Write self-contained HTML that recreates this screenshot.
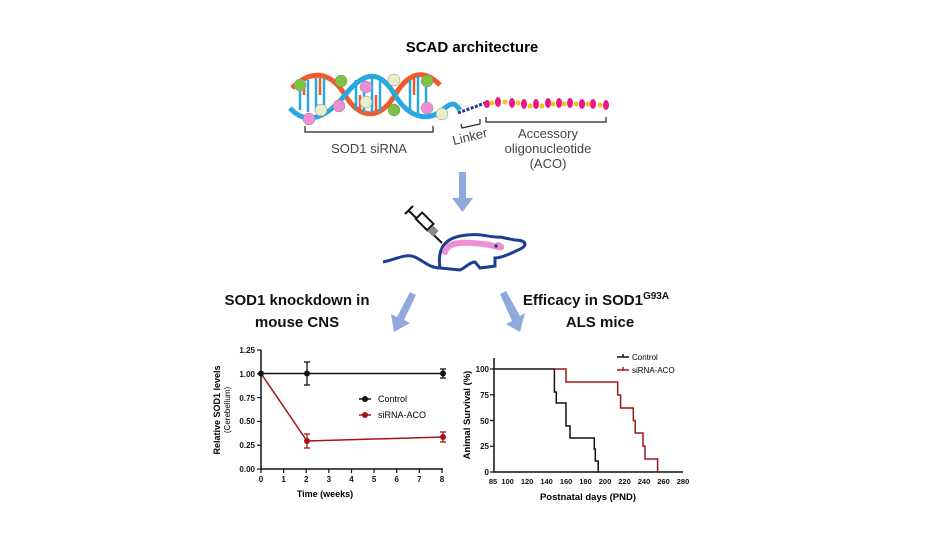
<!DOCTYPE html>
<html><head><meta charset="utf-8"><style>
html,body{margin:0;padding:0;background:#fff;}
svg{display:block;font-family:"Liberation Sans",Arial,sans-serif;}
</style></head><body>
<svg width="944" height="548" viewBox="0 0 944 548" xmlns="http://www.w3.org/2000/svg">
<text x="472" y="52" font-size="15" font-weight="bold" text-anchor="middle">SCAD architecture</text>
<!-- DNA -->
<g stroke-width="5" fill="none">
<path d="M292,88 C310,70 330,70 345,95 C360,120 380,120 395,95 C410,70 425,70 440,85" stroke="#f05a28"/>
<path d="M290,108 C305,125 325,120 345,95 C365,70 380,70 395,95 C410,120 430,122 445,108 C452,102 455,103 460,110" stroke="#29a8e0"/>
</g>
<g stroke="#29a8e0" stroke-width="2.5">
<line x1="300" y1="83" x2="300" y2="110"/><line x1="308" y1="80" x2="308" y2="112"/><line x1="316" y1="78" x2="316" y2="112"/><line x1="324" y1="78" x2="324" y2="110"/>
<line x1="356" y1="80" x2="356" y2="110"/><line x1="364" y1="76" x2="364" y2="113"/><line x1="372" y1="75" x2="372" y2="113"/><line x1="380" y1="80" x2="380" y2="112"/>
<line x1="410" y1="80" x2="410" y2="110"/><line x1="418" y1="76" x2="418" y2="113"/><line x1="426" y1="76" x2="426" y2="113"/>
</g>
<g stroke="#f05a28" stroke-width="2.5">
<line x1="304" y1="82" x2="304" y2="95"/><line x1="320" y1="78" x2="320" y2="95"/><line x1="360" y1="95" x2="360" y2="112"/><line x1="376" y1="95" x2="376" y2="113"/><line x1="414" y1="78" x2="414" y2="95"/>
</g>
<g stroke="#888" stroke-width="0.5">
<circle cx="300" cy="85" r="6" fill="#7dc242"/><circle cx="321" cy="110" r="6" fill="#e6efc8"/><circle cx="309" cy="119" r="6" fill="#ee8fd4"/>
<circle cx="341" cy="81" r="6" fill="#7dc242"/><circle cx="339" cy="106" r="6" fill="#ee8fd4"/><circle cx="366" cy="87" r="6" fill="#ee8fd4"/><circle cx="366" cy="102" r="6" fill="#e6efc8"/>
<circle cx="394" cy="80" r="6" fill="#e6efc8"/><circle cx="394" cy="110" r="6" fill="#7dc242"/><circle cx="427" cy="81" r="6" fill="#7dc242"/><circle cx="427" cy="108" r="6" fill="#ee8fd4"/><circle cx="442" cy="114" r="6" fill="#e6efc8"/>
</g>
<path d="M458,113 L485,103" stroke="#1c3f94" stroke-width="3" stroke-dasharray="3,1.5"/>
<g>
<rect x="485" y="100" width="125" height="3" fill="#e8178a" opacity="0"/>
<g fill="#e8178a">
<ellipse cx="487" cy="104" rx="3" ry="4"/><ellipse cx="498" cy="102" rx="3" ry="5"/><ellipse cx="512" cy="103" rx="3" ry="5"/><ellipse cx="524" cy="104" rx="3" ry="5"/><ellipse cx="536" cy="104" rx="3" ry="5"/><ellipse cx="548" cy="103" rx="3" ry="5"/><ellipse cx="559" cy="103" rx="3" ry="5"/><ellipse cx="570" cy="103" rx="3" ry="5"/><ellipse cx="582" cy="104" rx="3" ry="5"/><ellipse cx="593" cy="104" rx="3" ry="5"/><ellipse cx="606" cy="105" rx="3" ry="5"/>
</g>
<g fill="#f7c11a">
<circle cx="492" cy="103" r="2.5"/><circle cx="505" cy="102" r="2.5"/><circle cx="518" cy="103" r="2.5"/><circle cx="530" cy="106" r="2.5"/><circle cx="542" cy="106" r="2.5"/><circle cx="553" cy="104" r="2.5"/><circle cx="564" cy="104" r="2.5"/><circle cx="576" cy="104" r="2.5"/><circle cx="588" cy="104" r="2.5"/><circle cx="600" cy="105" r="2.5"/>
</g>
</g>
<g stroke="#222" stroke-width="1.2" fill="none">
<path d="M305,126 V132 H433 V126"/>
<path d="M461,124 L462,128 L480,124 L480,119"/>
<path d="M486,117 V122 H606 V117"/>
</g>
<g font-size="13" fill="#444" text-anchor="middle">
<text x="369" y="153">SOD1 siRNA</text>
<text x="470" y="141" transform="rotate(-14 470 137)">Linker</text>
<text x="548" y="138">Accessory</text>
<text x="548" y="153">oligonucleotide</text>
<text x="548" y="168">(ACO)</text>
</g>
<!-- arrows -->
<g fill="#8fa9dc">
<path d="M459,172 H466 V198 H473 L462.5,212 L452,198 H459 Z"/>
<path d="M410,292 L416,295 L404,320 L410,323 L394,332 L391,314 L397,317 Z"/>
<path d="M500,294 L506,291 L520,316 L525,313 L520,332 L506,324 L512,321 Z"/>
</g>
<!-- mouse -->
<g fill="none" stroke="#1c3f94" stroke-width="3">
<path d="M383,262 C395,260 405,253 415,257 C425,262 430,268 440,268"/>
<path d="M440,268 C438,255 440,240 460,236 C480,232 490,238 500,237 L515,240 C525,240 530,245 518,250 C508,255 500,258 495,258 L495,266 L480,268 L475,262 C470,262 465,268 460,270 L440,268"/>
</g>
<path d="M445,252 C448,240 470,242 490,245 C500,248 505,248 498,245" stroke="#ee8fd4" stroke-width="6" fill="none" stroke-linecap="round"/>
<circle cx="496" cy="246" r="1.8" fill="#1c3f94"/>
<g stroke="#111" stroke-width="2" fill="none">
<line x1="408" y1="210" x2="442" y2="243"/>
<rect x="417" y="217" width="16" height="9" transform="rotate(45 425 221)" fill="#fff"/>
<line x1="405" y1="214" x2="413" y2="206"/>
</g>
<rect x="429" y="227" width="8" height="8" transform="rotate(45 433 231)" fill="#888"/>
<!-- titles -->
<g font-size="15" font-weight="bold" text-anchor="middle" fill="#111">
<text x="297" y="305">SOD1 knockdown in</text>
<text x="297" y="327">mouse CNS</text>
<text x="596" y="305">Efficacy in SOD1<tspan font-size="10" dy="-6">G93A</tspan></text>
<text x="600" y="327">ALS mice</text>
</g>
<!-- left plot -->
<g stroke="#111" stroke-width="1.5" fill="none">
<path d="M261,350 V469 H443"/>
</g>
<g stroke="#111" stroke-width="1.2">
<line x1="257" y1="350" x2="261" y2="350"/><line x1="257" y1="373.8" x2="261" y2="373.8"/><line x1="257" y1="397.6" x2="261" y2="397.6"/><line x1="257" y1="421.4" x2="261" y2="421.4"/><line x1="257" y1="445.2" x2="261" y2="445.2"/><line x1="257" y1="469" x2="261" y2="469"/>
<line x1="261" y1="469" x2="261" y2="473"/><line x1="283.6" y1="469" x2="283.6" y2="473"/><line x1="306.2" y1="469" x2="306.2" y2="473"/><line x1="328.9" y1="469" x2="328.9" y2="473"/><line x1="351.5" y1="469" x2="351.5" y2="473"/><line x1="374.1" y1="469" x2="374.1" y2="473"/><line x1="396.7" y1="469" x2="396.7" y2="473"/><line x1="419.3" y1="469" x2="419.3" y2="473"/><line x1="442" y1="469" x2="442" y2="473"/>
</g>
<g font-size="8" font-weight="bold" text-anchor="end" fill="#111">
<text x="255" y="353">1.25</text><text x="255" y="377">1.00</text><text x="255" y="401">0.75</text><text x="255" y="424">0.50</text><text x="255" y="448">0.25</text><text x="255" y="472">0.00</text>
</g>
<g font-size="8" font-weight="bold" text-anchor="middle" fill="#111">
<text x="261" y="482">0</text><text x="283.6" y="482">1</text><text x="306.2" y="482">2</text><text x="328.9" y="482">3</text><text x="351.5" y="482">4</text><text x="374.1" y="482">5</text><text x="396.7" y="482">6</text><text x="419.3" y="482">7</text><text x="442" y="482">8</text>
</g>
<text x="325" y="497" font-size="9" font-weight="bold" text-anchor="middle">Time (weeks)</text>
<text transform="translate(220 410) rotate(-90)" font-size="9" font-weight="bold" text-anchor="middle">Relative SOD1 levels</text>
<text transform="translate(230 410) rotate(-90)" font-size="8" text-anchor="middle">(Cerebellum)</text>
<polyline points="261,373.5 307,373.5 443,373.5" stroke="#111" stroke-width="1.5" fill="none"/>
<polyline points="261,373.5 307,441 443,437" stroke="#a31515" stroke-width="1.5" fill="none"/>
<g stroke="#111" stroke-width="1.3"><line x1="307" y1="362" x2="307" y2="385"/><line x1="304" y1="362" x2="310" y2="362"/><line x1="304" y1="385" x2="310" y2="385"/><line x1="443" y1="369" x2="443" y2="378"/><line x1="440" y1="369" x2="446" y2="369"/><line x1="440" y1="378" x2="446" y2="378"/></g>
<g stroke="#a31515" stroke-width="1.3"><line x1="307" y1="434" x2="307" y2="448"/><line x1="304" y1="434" x2="310" y2="434"/><line x1="304" y1="448" x2="310" y2="448"/><line x1="443" y1="432" x2="443" y2="442"/><line x1="440" y1="432" x2="446" y2="432"/><line x1="440" y1="442" x2="446" y2="442"/></g>
<circle cx="261" cy="373.5" r="3" fill="#111"/><circle cx="307" cy="373.5" r="3" fill="#111"/><circle cx="443" cy="373.5" r="3" fill="#111"/>
<circle cx="307" cy="441" r="3" fill="#a31515"/><circle cx="443" cy="437" r="3" fill="#a31515"/>
<line x1="359" y1="399" x2="371" y2="399" stroke="#111" stroke-width="1.5"/><circle cx="365" cy="399" r="3" fill="#111"/>
<text x="378" y="402" font-size="9">Control</text>
<line x1="359" y1="415" x2="371" y2="415" stroke="#a31515" stroke-width="1.5"/><circle cx="365" cy="415" r="3" fill="#a31515"/>
<text x="378" y="418" font-size="9">siRNA-ACO</text>
<!-- right plot -->
<path d="M494,358 V472 H683" stroke="#111" stroke-width="1.5" fill="none"/>
<g stroke="#111" stroke-width="1.2">
<line x1="490" y1="369" x2="494" y2="369"/><line x1="490" y1="394.8" x2="494" y2="394.8"/><line x1="490" y1="420.5" x2="494" y2="420.5"/><line x1="490" y1="446.3" x2="494" y2="446.3"/><line x1="490" y1="472" x2="494" y2="472"/>
</g>
<g font-size="8" font-weight="bold" text-anchor="end" fill="#111">
<text x="489" y="372">100</text><text x="489" y="398">75</text><text x="489" y="424">50</text><text x="489" y="449">25</text><text x="489" y="475">0</text>
</g>
<g font-size="7.5" font-weight="bold" text-anchor="middle" fill="#111">
<text x="493" y="484">85</text><text x="507.6" y="484">100</text><text x="527.1" y="484">120</text><text x="546.6" y="484">140</text><text x="566.1" y="484">160</text><text x="585.5" y="484">180</text><text x="605" y="484">200</text><text x="624.5" y="484">220</text><text x="644" y="484">240</text><text x="663.5" y="484">260</text><text x="683" y="484">280</text>
</g>
<text x="588" y="500" font-size="9.5" font-weight="bold" text-anchor="middle">Postnatal days (PND)</text>
<text transform="translate(470 415) rotate(-90)" font-size="9.5" font-weight="bold" text-anchor="middle">Animal Survival (%)</text>
<path d="M494,369 H554.4 V392 H556.3 V403 H566 V426 H570 V438 H594.3 V449 H595.3 V461 H598.2 V472" stroke="#111" stroke-width="1.5" fill="none"/>
<path d="M554,369 H566 V382 H617.7 V395 H620.6 V408 H633.3 V420.5 H635.2 V433 H643 V446 H645 V459 H657.6 V472" stroke="#a31515" stroke-width="1.5" fill="none"/>
<line x1="617" y1="357" x2="629" y2="357" stroke="#111" stroke-width="1.5"/><line x1="623" y1="354" x2="623" y2="357" stroke="#111" stroke-width="1.5"/>
<text x="632" y="360" font-size="8">Control</text>
<line x1="617" y1="370" x2="629" y2="370" stroke="#a31515" stroke-width="1.5"/><line x1="623" y1="367" x2="623" y2="370" stroke="#a31515" stroke-width="1.5"/>
<text x="632" y="373" font-size="8">siRNA-ACO</text>
</svg>
</body></html>
